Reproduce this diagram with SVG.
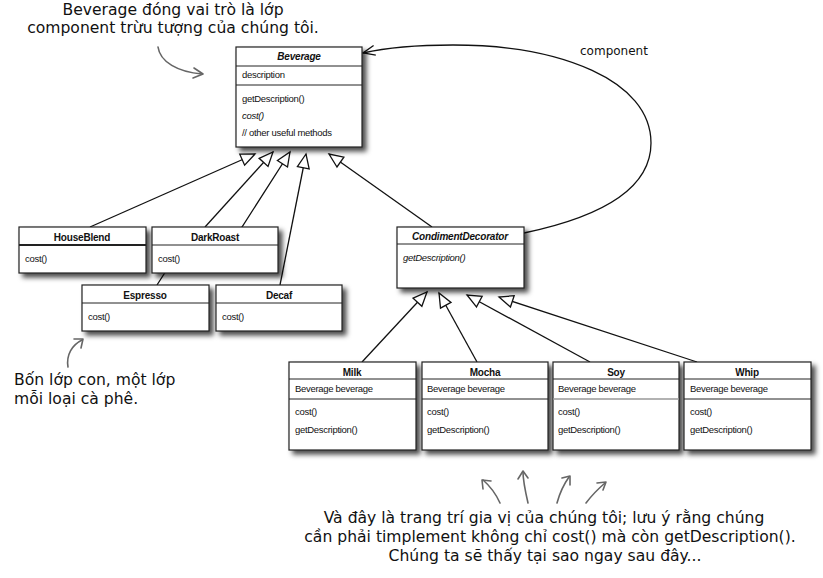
<svg xmlns="http://www.w3.org/2000/svg" width="823" height="578" viewBox="0 0 823 578">
<defs>
<style>
.box{fill:#fff;stroke:#222;stroke-width:1.2}
.div{stroke:#222;stroke-width:1}
.t{font-family:"Liberation Sans",Arial,sans-serif;font-size:9.5px;letter-spacing:-0.3px;fill:#111}
.h{font-family:"Liberation Sans",Arial,sans-serif;font-size:10px;font-weight:bold;letter-spacing:-0.2px;fill:#111;text-anchor:middle}
.i{font-style:italic}
.a{font-family:"DejaVu Sans",sans-serif;font-size:15.6px;fill:#111}
.c{fill:none;stroke:#111;stroke-width:1.3}
.hand{fill:none;stroke:#666;stroke-width:1.6;stroke-linecap:round;stroke-linejoin:round}
</style>
<filter id="sh" x="-10%" y="-10%" width="130%" height="140%">
<feDropShadow dx="4" dy="4" stdDeviation="2.5" flood-color="#000" flood-opacity="0.7"/>
</filter>
<marker id="tri" markerWidth="18" markerHeight="16" refX="16" refY="8" orient="auto" markerUnits="userSpaceOnUse">
<path d="M2,2 L16,8 L2,14 Z" fill="#fff" stroke="#111" stroke-width="1.3"/>
</marker>
<marker id="open" markerWidth="16" markerHeight="14" refX="14" refY="7" orient="auto" markerUnits="userSpaceOnUse">
<path d="M2,2 L14,7 L2,12" fill="none" stroke="#111" stroke-width="1.3"/>
</marker>
</defs>
<rect width="823" height="578" fill="#fff"/>

<g id="connectors">
<path class="c" d="M90,227 L255,154" marker-end="url(#tri)"/>
<path class="c" d="M205,227 L273,152" marker-end="url(#tri)"/>
<path class="c" d="M157,285 L166,271 L242,227 L290,152" marker-end="url(#tri)"/>
<path class="c" d="M280,285 L306,154" marker-end="url(#tri)"/>
<path class="c" d="M432,227 L329,154" marker-end="url(#tri)"/>
<path class="c" d="M362,362 L427,292" marker-end="url(#tri)"/>
<path class="c" d="M477,362 L439,293" marker-end="url(#tri)"/>
<path class="c" d="M590,362 L467,295" marker-end="url(#tri)"/>
<path class="c" d="M697,362 L499,297" marker-end="url(#tri)"/>
<path class="c" d="M524,233 C610,215 651,185 651,143 C651,80 560,45 453,45 C415,45 385,48 363,53" marker-end="url(#open)"/>
<text class="a" x="580" y="55" style="font-size:12px">component</text>
</g>

<g id="Beverage">
<rect class="box" x="236" y="47" width="126" height="100" filter="url(#sh)"/>
<line class="div" x1="236" y1="66" x2="362" y2="66"/>
<line class="div" x1="236" y1="85" x2="362" y2="85"/>
<text class="h i" x="299" y="60">Beverage</text>
<text class="t" x="242" y="78">description</text>
<text class="t" x="242" y="102">getDescription()</text>
<text class="t i" x="242" y="119">cost()</text>
<text class="t" x="242" y="136">// other useful methods</text>
</g>

<g id="HouseBlend">
<rect class="box" x="19" y="227" width="127" height="46" filter="url(#sh)"/>
<line class="div" x1="19" y1="245" x2="146" y2="245" style="stroke-width:1.8"/>
<text class="h" x="82" y="241">HouseBlend</text>
<text class="t" x="25" y="262">cost()</text>
</g>

<g id="DarkRoast">
<rect class="box" x="152" y="227" width="126" height="46" filter="url(#sh)"/>
<line class="div" x1="152" y1="245" x2="278" y2="245"/>
<text class="h" x="215" y="241">DarkRoast</text>
<text class="t" x="158" y="262">cost()</text>
</g>

<g id="Espresso">
<rect class="box" x="82" y="285" width="127" height="46" filter="url(#sh)"/>
<line class="div" x1="82" y1="303" x2="209" y2="303"/>
<text class="h" x="145" y="299">Espresso</text>
<text class="t" x="88" y="320">cost()</text>
</g>

<g id="Decaf">
<rect class="box" x="216" y="285" width="126" height="46" filter="url(#sh)"/>
<line class="div" x1="216" y1="303" x2="342" y2="303"/>
<text class="h" x="279" y="299">Decaf</text>
<text class="t" x="222" y="320">cost()</text>
</g>

<g id="CondimentDecorator">
<rect class="box" x="397" y="227" width="127" height="61" filter="url(#sh)"/>
<line class="div" x1="397" y1="244" x2="524" y2="244"/>
<text class="h i" x="460" y="240">CondimentDecorator</text>
<text class="t i" x="403" y="261">getDescription()</text>
</g>

<g id="Milk">
<rect class="box" x="289" y="362" width="127" height="88" filter="url(#sh)"/>
<line class="div" x1="289" y1="379" x2="416" y2="379"/>
<line class="div" x1="289" y1="399" x2="416" y2="399"/>
<text class="h" x="352" y="376">Milk</text>
<text class="t" x="295" y="392">Beverage beverage</text>
<text class="t" x="295" y="415">cost()</text>
<text class="t" x="295" y="433">getDescription()</text>
</g>

<g id="Mocha">
<rect class="box" x="422" y="362" width="126" height="88" filter="url(#sh)"/>
<line class="div" x1="422" y1="379" x2="548" y2="379"/>
<line class="div" x1="422" y1="399" x2="548" y2="399"/>
<text class="h" x="485" y="376">Mocha</text>
<text class="t" x="427" y="392">Beverage beverage</text>
<text class="t" x="427" y="415">cost()</text>
<text class="t" x="427" y="433">getDescription()</text>
</g>

<g id="Soy">
<rect class="box" x="553" y="362" width="126" height="88" filter="url(#sh)"/>
<line class="div" x1="553" y1="379" x2="679" y2="379"/>
<line class="div" x1="553" y1="399" x2="679" y2="399" style="stroke:#999;stroke-width:1.5"/>
<text class="h" x="616" y="376">Soy</text>
<text class="t" x="558" y="392">Beverage beverage</text>
<text class="t" x="558" y="415">cost()</text>
<text class="t" x="558" y="433">getDescription()</text>
</g>

<g id="Whip">
<rect class="box" x="684" y="362" width="127" height="88" filter="url(#sh)"/>
<line class="div" x1="684" y1="379" x2="811" y2="379"/>
<line class="div" x1="684" y1="399" x2="811" y2="399"/>
<text class="h" x="747" y="376">Whip</text>
<text class="t" x="690" y="392">Beverage beverage</text>
<text class="t" x="690" y="415">cost()</text>
<text class="t" x="690" y="433">getDescription()</text>
</g>

<g id="annotations">
<text class="a" x="173" y="15" text-anchor="middle">Beverage đóng vai trò là lớp</text>
<text class="a" x="173" y="33" text-anchor="middle">component trừu tượng của chúng tôi.</text>
<path class="hand" d="M158,47 C160,62 178,72 202,74"/>
<path class="hand" d="M194,68 L203,74 L193,78"/>

<text class="a" x="14" y="385">Bốn lớp con, một lớp</text>
<text class="a" x="14" y="404">mỗi loại cà phê.</text>
<path class="hand" d="M68,367 C66,355 72,345 82,340"/>
<path class="hand" d="M74,339 L83,339 L81,348"/>

<path class="hand" d="M500,503 C495,492 490,486 483,480"/>
<path class="hand" d="M483,489 L482,480 L491,481"/>
<path class="hand" d="M528,503 C525,490 523,480 523,472"/>
<path class="hand" d="M518,479 L523,471 L528,478"/>
<path class="hand" d="M557,503 C560,492 564,484 569,477"/>
<path class="hand" d="M562,478 L570,476 L570,485"/>
<path class="hand" d="M586,503 C592,495 598,489 605,483"/>
<path class="hand" d="M597,483 L606,482 L603,490"/>

<text class="a" x="544" y="523" text-anchor="middle">Và đây là trang trí gia vị của chúng tôi; lưu ý rằng chúng</text>
<text class="a" x="550" y="542" text-anchor="middle">cần phải timplement không chỉ cost() mà còn getDescription().</text>
<text class="a" x="545" y="561" text-anchor="middle">Chúng ta sẽ thấy tại sao ngay sau đây...</text>
</g>
</svg>
